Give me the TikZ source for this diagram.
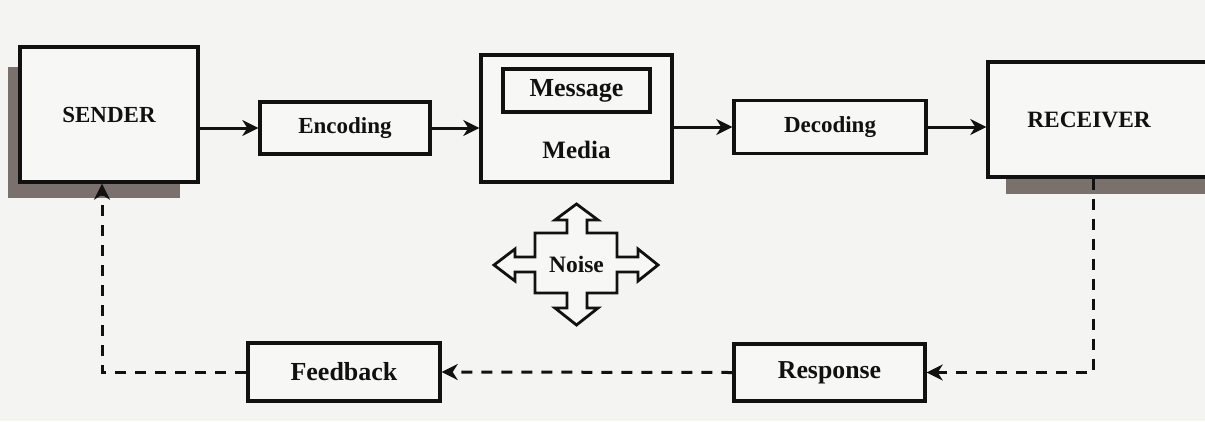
\documentclass[tikz,border=0pt]{standalone}
\usepackage{fontspec}
\setmainfont{Liberation Serif}
\usetikzlibrary{arrows.meta}
\definecolor{bgc}{HTML}{F4F4F2}
\definecolor{boxc}{HTML}{F7F7F6}
\definecolor{shadowc}{HTML}{7A706C}
\definecolor{inkc}{HTML}{111111}
\begin{document}
\begin{tikzpicture}[x=1pt,y=-1pt,
  box/.style={draw=inkc,line width=3.4pt,fill=boxc,rectangle,inner sep=0pt,
    font=\bfseries\fontsize{25}{28}\selectfont,text=inkc},
  lbl/.style={inner sep=0pt,font=\bfseries\fontsize{25}{28}\selectfont,text=inkc},
  conn/.style={draw=inkc,line width=3pt,-{Stealth[length=16pt,width=16pt,inset=5pt]}},
  dconn/.style={conn,dash pattern=on 11pt off 9pt},
  shadowbox/.style={fill=shadowc,draw=none}
]
\useasboundingbox[fill=bgc] (0,0) rectangle (1205,421);
% shadows
\fill[shadowc] (8,67) rectangle (180,198);
\fill[shadowc] (1006,100) rectangle (1205,194);
% boxes
\node[box,minimum width=178pt,minimum height=135pt,font=\bfseries\fontsize{23}{26}\selectfont] (sender) at (109,114.5) {SENDER};
\node[box,minimum width=170pt,minimum height=52pt,font=\bfseries\fontsize{23}{26}\selectfont] (encoding) at (345,128) {Encoding};
\node[box,minimum width=191pt,minimum height=127pt] (media) at (576.5,118.5) {};
\node[box,minimum width=147pt,minimum height=43pt,font=\bfseries\fontsize{26}{28}\selectfont] (message) at (576.5,90.5) {Message};
\node[lbl] (mediatext) at (576.5,150) {Media};
\node[box,minimum width=192pt,minimum height=53pt,font=\bfseries\fontsize{23}{26}\selectfont] (decoding) at (830,127) {Decoding};
\node[box,minimum width=226pt,minimum height=115pt,font=\bfseries\fontsize{23.4}{26}\selectfont] (receiver) at (1101,119.5) {\hspace*{-24pt}RECEIVER};
\node[box,minimum width=191pt,minimum height=57pt,font=\bfseries\fontsize{25.8}{28}\selectfont] (response) at (829.5,372.5) {Response};
\node[box,minimum width=192pt,minimum height=58pt,font=\bfseries\fontsize{26}{28}\selectfont] (feedback) at (344,372) {Feedback};
% noise shape
\draw[draw=inkc,line width=2.8pt,fill=boxc,line join=miter]
  (567,233) -- (567,220) -- (555,220) -- (576.5,204) -- (598,220) -- (587,220) -- (587,233)
  -- (617,233) -- (617,257) -- (638,257) -- (638,249) -- (658,265) -- (638,281) -- (638,272)
  -- (617,272) -- (617,293) -- (587,293) -- (587,308) -- (598,308) -- (576.5,325) -- (555,308)
  -- (567,308) -- (567,293) -- (535,293) -- (535,272) -- (515,272) -- (515,281) -- (494,265)
  -- (515,249) -- (515,257) -- (535,257) -- (535,233) -- cycle;
\node[lbl,font=\bfseries\fontsize{23.5}{26}\selectfont] (noise) at (576.5,264) {Noise};
% connectors
\draw[conn] (sender.east |- encoding.west) -- (encoding.west);
\draw[conn] (encoding.east) -- (encoding.east -| media.west);
\draw[conn] (decoding.west -| media.east) -- (decoding.west);
\draw[conn] (decoding.east) -- (decoding.east -| receiver.west);
\draw[dconn] ([xshift=-8pt]receiver.south) |- (response.east);
\draw[dconn] (response.west) -- (feedback.east);
\draw[dconn] (feedback.west) -| ([xshift=-7pt]sender.south);
\end{tikzpicture}
\end{document}
